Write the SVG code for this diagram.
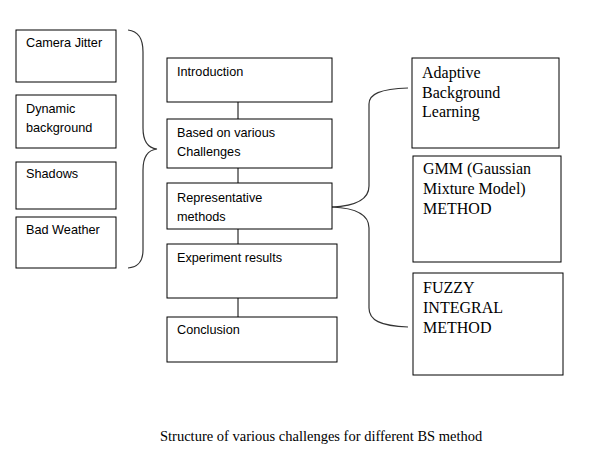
<svg xmlns="http://www.w3.org/2000/svg" width="595" height="451" viewBox="0 0 595 451">
<style>
rect{fill:#fff;stroke:#000;stroke-width:1}
.s{font-family:"Liberation Sans",Arial,sans-serif;font-size:12.7px;fill:#000}
.t{font-family:"Liberation Serif","Times New Roman",serif;font-size:16px;fill:#000}
.c{font-family:"Liberation Serif","Times New Roman",serif;font-size:14.5px;fill:#000}
.l{fill:none;stroke:#000;stroke-width:1}
.b{fill:none;stroke:#333;stroke-width:1.2}
</style>
<rect x="0" y="0" width="595" height="451" style="stroke:none"/>
<g id="connectors">
<line class="l" x1="238" y1="102" x2="238" y2="119"/>
<line class="l" x1="238" y1="168" x2="238" y2="183"/>
<line class="l" x1="238" y1="229" x2="238" y2="244"/>
<line class="l" x1="238" y1="298" x2="238" y2="317"/>
<path class="b" d="M128,30 C138,31 143,38 143,52 L143,128 C143,142 148,148 157,149 C148,150 143,156 143,170 L143,250 C143,262 138,267 128,268"/>
<path class="b" d="M332,207 C355,206 369,200 369,186 L369,104 C369,94 380,89 408,88"/>
<path class="b" d="M332,207 C355,208 369,214 369,228 L369,308 C369,320 380,326 408,327"/>
</g>
<g id="camera-jitter"><rect x="16" y="30" width="100" height="52"/><text class="s" x="26" y="47">Camera Jitter</text></g>
<g id="dynamic-background"><rect x="16" y="95" width="100" height="53"/><text class="s" x="26" y="113">Dynamic</text><text class="s" x="26" y="132">background</text></g>
<g id="shadows"><rect x="16" y="162" width="100" height="47"/><text class="s" x="26" y="178">Shadows</text></g>
<g id="bad-weather"><rect x="16" y="217" width="100" height="51"/><text class="s" x="26" y="234">Bad Weather</text></g>
<g id="introduction"><rect x="167" y="58" width="165" height="44"/><text class="s" x="177" y="76">Introduction</text></g>
<g id="based-on-challenges"><rect x="167" y="119" width="165" height="49"/><text class="s" x="177" y="137">Based on various</text><text class="s" x="177" y="156">Challenges</text></g>
<g id="representative-methods"><rect x="167" y="183" width="165" height="46"/><text class="s" x="177" y="202">Representative</text><text class="s" x="177" y="221">methods</text></g>
<g id="experiment-results"><rect x="167" y="244" width="170" height="54"/><text class="s" x="177" y="262">Experiment results</text></g>
<g id="conclusion"><rect x="167" y="317" width="170" height="45"/><text class="s" x="177" y="334">Conclusion</text></g>
<g id="adaptive"><rect x="412" y="58" width="147" height="90"/><text class="t" x="422" y="78">Adaptive</text><text class="t" x="422" y="98">Background</text><text class="t" x="422" y="117">Learning</text></g>
<g id="gmm"><rect x="413" y="156" width="148" height="106"/><text class="t" x="423" y="174">GMM (Gaussian</text><text class="t" x="423" y="194">Mixture Model)</text><text class="t" x="423" y="214">METHOD</text></g>
<g id="fuzzy"><rect x="413" y="273" width="150" height="102"/><text class="t" x="423" y="293">FUZZY</text><text class="t" x="423" y="313">INTEGRAL</text><text class="t" x="423" y="333">METHOD</text></g>
<text class="c" x="160" y="441">Structure of various challenges for different BS method</text>
</svg>
